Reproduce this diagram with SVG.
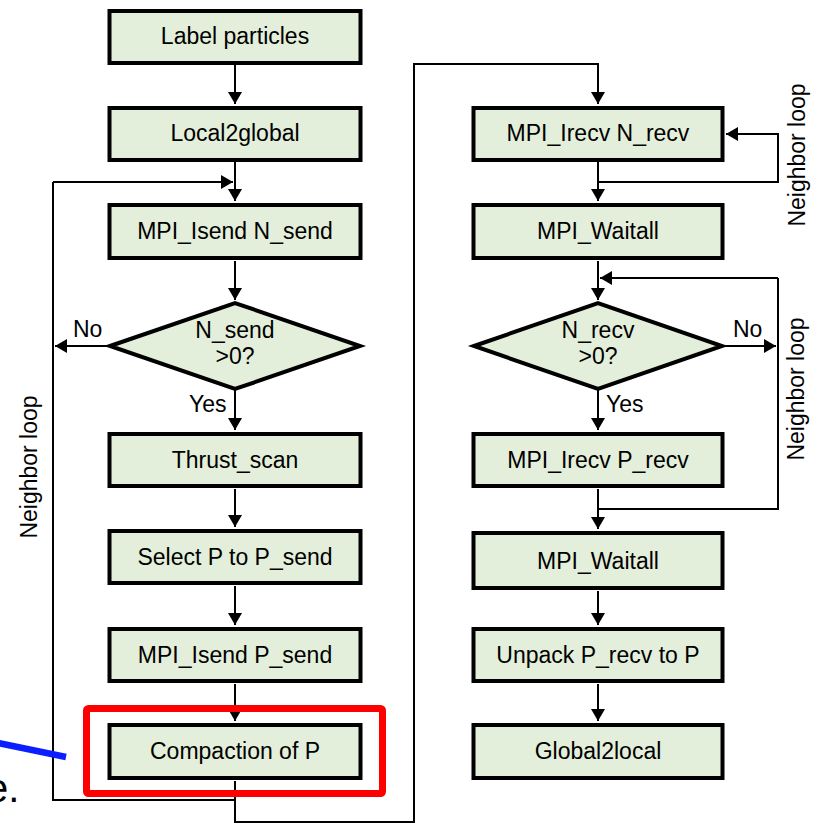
<svg xmlns="http://www.w3.org/2000/svg" width="818" height="825" viewBox="0 0 818 825">
<style>
.box{fill:#E3EFDA;stroke:#000;stroke-width:4}
.t{font-family:"Liberation Sans",Arial,sans-serif;font-size:23px;fill:#000}
.c{text-anchor:middle}
.ln{fill:none;stroke:#000;stroke-width:2}
</style>
<defs>
<marker id="ah" viewBox="0 0 12 14" refX="12" refY="7" markerWidth="12" markerHeight="14" markerUnits="userSpaceOnUse" orient="auto">
<path d="M0,0 L12,7 L0,14 Z" fill="#000"/>
</marker>
</defs>
<rect width="818" height="825" fill="#fff"/>

<g id="connectors">
<path class="ln" d="M235,65 V104" marker-end="url(#ah)"/>
<path class="ln" d="M235,162 V201" marker-end="url(#ah)"/>
<path class="ln" d="M53,182 H233" marker-end="url(#ah)"/>
<path class="ln" d="M235,261 V300" marker-end="url(#ah)"/>
<path class="ln" d="M108,346 H55" marker-end="url(#ah)"/>
<path class="ln" d="M235,390 V430" marker-end="url(#ah)"/>
<path class="ln" d="M235,489 V527" marker-end="url(#ah)"/>
<path class="ln" d="M235,586 V625" marker-end="url(#ah)"/>
<path class="ln" d="M235,684 V721" marker-end="url(#ah)"/>
<path class="ln" d="M53,182 V800 H235"/>
<path class="ln" d="M235,781 V822 H414 V64 H598 V104" marker-end="url(#ah)"/>
<path class="ln" d="M598,162 V201" marker-end="url(#ah)"/>
<path class="ln" d="M598,182 H778 V134 H726" marker-end="url(#ah)"/>
<path class="ln" d="M598,261 V300" marker-end="url(#ah)"/>
<path class="ln" d="M778,278 H600" marker-end="url(#ah)"/>
<path class="ln" d="M724,346 H776" marker-end="url(#ah)"/>
<path class="ln" d="M778,278 V509 H598"/>
<path class="ln" d="M598,390 V430" marker-end="url(#ah)"/>
<path class="ln" d="M598,489 V529" marker-end="url(#ah)"/>
<path class="ln" d="M598,591 V625" marker-end="url(#ah)"/>
<path class="ln" d="M598,684 V721" marker-end="url(#ah)"/>
</g>

<g id="n-label">
<rect class="box" x="109.5" y="11" width="251" height="52"/>
<text class="t c" x="235" y="44">Label particles</text>
</g>
<g id="n-local2global">
<rect class="box" x="109.5" y="108" width="251" height="52"/>
<text class="t c" x="235" y="141">Local2global</text>
</g>
<g id="n-isend-n">
<rect class="box" x="109.5" y="205" width="251" height="53"/>
<text class="t c" x="235" y="239">MPI_Isend N_send</text>
</g>
<g id="n-dec-send">
<polygon class="box" points="110,346 235,303 360,346 235,389"/>
<text class="t c" x="235" y="338">N_send</text>
<text class="t c" x="235" y="364">&gt;0?</text>
</g>
<g id="n-thrust">
<rect class="box" x="109.5" y="434" width="251" height="52"/>
<text class="t c" x="235" y="468">Thrust_scan</text>
</g>
<g id="n-select">
<rect class="box" x="109.5" y="531" width="251" height="52"/>
<text class="t c" x="235" y="565">Select P to P_send</text>
</g>
<g id="n-isend-p">
<rect class="box" x="109.5" y="629" width="251" height="52"/>
<text class="t c" x="235" y="663">MPI_Isend P_send</text>
</g>
<g id="n-compaction">
<rect class="box" x="109.5" y="725" width="251" height="53"/>
<text class="t c" x="235" y="759">Compaction of P</text>
</g>

<g id="n-irecv-n">
<rect class="box" x="473.5" y="108" width="249" height="52"/>
<text class="t c" x="598" y="141">MPI_Irecv N_recv</text>
</g>
<g id="n-waitall-1">
<rect class="box" x="473.5" y="205" width="249" height="53"/>
<text class="t c" x="598" y="239">MPI_Waitall</text>
</g>
<g id="n-dec-recv">
<polygon class="box" points="474,346 598,303 722,346 598,389"/>
<text class="t c" x="598" y="338">N_recv</text>
<text class="t c" x="598" y="364">&gt;0?</text>
</g>
<g id="n-irecv-p">
<rect class="box" x="473.5" y="434" width="249" height="52"/>
<text class="t c" x="598" y="468">MPI_Irecv P_recv</text>
</g>
<g id="n-waitall-2">
<rect class="box" x="473.5" y="533" width="249" height="55"/>
<text class="t c" x="598" y="569">MPI_Waitall</text>
</g>
<g id="n-unpack">
<rect class="box" x="473.5" y="629" width="249" height="52"/>
<text class="t c" x="598" y="663">Unpack P_recv to P</text>
</g>
<g id="n-global2local">
<rect class="box" x="473.5" y="725" width="249" height="53"/>
<text class="t c" x="598" y="759">Global2local</text>
</g>

<g id="labels">
<text class="t" x="73" y="337">No</text>
<text class="t" x="189" y="412">Yes</text>
<text class="t" x="733" y="337">No</text>
<text class="t" x="606" y="412">Yes</text>
<text class="t c" transform="translate(37,467) rotate(-90)">Neighbor loop</text>
<text class="t c" transform="translate(805,155) rotate(-90)">Neighbor loop</text>
<text class="t c" transform="translate(804,389) rotate(-90)">Neighbor loop</text>
</g>

<g id="highlight">
<rect x="86.5" y="708.5" width="296" height="85" rx="2" fill="none" stroke="#FF0000" stroke-width="7"/>
<line x1="-2" y1="743" x2="66" y2="757" stroke="#0A1EFF" stroke-width="6.5"/>
<text x="-14" y="802" font-family="Liberation Sans, Arial, sans-serif" font-size="40" fill="#000">e.</text>
</g>
</svg>
